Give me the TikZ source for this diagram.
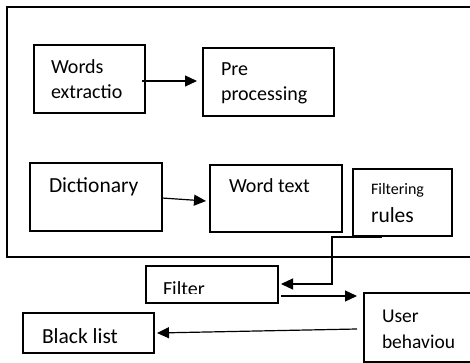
\documentclass[tikz,border=0pt]{standalone}
\usepackage{fontspec}
\setmainfont{Carlito}
\usetikzlibrary{arrows.meta}
\begin{document}
\begin{tikzpicture}[x=1pt,y=-1pt,
  box/.style={draw, line width=1.3pt, inner sep=0pt, outer sep=0pt},
  frame/.style={draw, line width=1.3pt},
  arr/.style={line width=1.2pt, -{Triangle[length=12pt,width=11pt]}},
  conn/.style={line width=1.2pt},
  lbl/.style={anchor=base west, inner sep=0pt, outer sep=0pt, font=\fontsize{20}{24}\selectfont},
  lblbig/.style={lbl, font=\fontsize{21.5}{26}\selectfont},
  lblsmall/.style={lbl, font=\fontsize{16}{19}\selectfont}]
\useasboundingbox (0,0) rectangle (470,363);
\clip (0,0) rectangle (470,363);
% outer frame
\draw[frame] (7,7) rectangle (490,257);
% boxes
\node[box, minimum width=111pt, minimum height=68pt] (we) at (89.5,79) {};
\node[box, minimum width=131pt, minimum height=68pt] (pp) at (268.5,82) {};
\node[box, minimum width=132pt, minimum height=68pt] (dic) at (96,197) {};
\node[box, minimum width=132pt, minimum height=67pt] (wt) at (276,198.5) {};
\node[box, minimum width=99pt, minimum height=67pt] (fr) at (402.5,202.5) {};
\node[box, minimum width=132pt, minimum height=37pt] (fil) at (212,284.5) {};
\node[box, minimum width=126pt, minimum height=69pt] (ub) at (427,327.5) {};
\node[box, minimum width=131pt, minimum height=40pt] (bl) at (88.5,333) {};
% texts
\node[lbl] (t1) at (51,74) {Words};
\node[lbl] (t2) at (51,99) {extractio};
\node[lbl] (t3) at (221,76) {Pre};
\node[lbl] (t4) at (221,101) {processing};
\node[lblbig] (t5) at (49,193) {Dictionary};
\node[lbl] (t6) at (229,193) {Word text};
\node[lblsmall] (t7) at (371,194) {Filtering};
\node[lblbig] (t8) at (371,222) {rules};
\begin{scope}
\clip (146,266) rectangle (278,293);
\node[lbl] (t9) at (163,295) {Filter};
\end{scope}
\node[lbl, font=\fontsize{19.5}{23}\selectfont] (t10) at (382,322) {User};
\node[lbl, font=\fontsize{19.5}{23}\selectfont] (t11) at (382,348) {behaviou};
\node[lblbig] (t12) at (42,343) {Black list};
% connectors
\draw[arr] ([xshift=-3pt,yshift=-2pt]we.east) -- ([xshift=-6pt,yshift=1pt]pp.west);
\draw[arr] ([yshift=-1pt]dic.east) -- ([xshift=-4pt,yshift=-2.5pt]wt.west);
\coordinate (c1) at (332,237);
\coordinate (c2) at (332,284);
\draw[arr] ([xshift=-20.5pt,yshift=-1pt]fr.south) -- (c1) -- (c2) -- ([xshift=3pt,yshift=0.5pt]fil.east);
\draw[arr] ([xshift=3pt,yshift=-11.5pt]fil.east) -- ([xshift=-7pt,yshift=31.5pt]ub.west);
\draw[arr] ([xshift=-7pt,yshift=-1.5pt]ub.west) -- ([xshift=3pt]bl.east);
\end{tikzpicture}
\end{document}
